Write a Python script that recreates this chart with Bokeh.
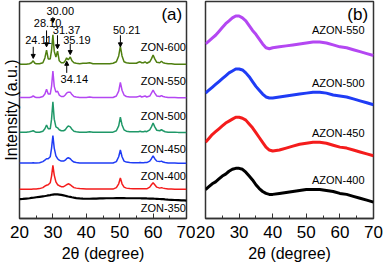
from bokeh.plotting import figure
from bokeh.layouts import row
from bokeh.models import Arrow, NormalHead, FixedTicker, Range1d, Title
from bokeh.core.properties import value
from bokeh.embed import file_html
from bokeh.resources import INLINE

FONT = "Liberation Sans"

# ---------------- data: panel (a) ----------------
theta_a = [20, 21, 22, 23, 23.6, 24.1, 24.6, 25, 26, 27, 27.6, 28.1, 28.6, 29.2, 29.6, 30.0,
           30.4, 30.9, 31.4, 31.9, 32.5, 33.2, 33.7, 34.1, 34.6, 35.2, 35.7, 36.3, 37, 38,
           39, 40, 41, 42, 43, 44, 45, 46, 47, 48, 49, 49.7, 50.2, 50.7, 51.3, 52, 53, 54,
           55, 55.6, 56.1, 56.6, 57.1, 57.6, 58.1, 59, 59.5, 60.0, 60.5, 61.1, 62, 62.5, 63,
           63.6, 64.5, 65.5, 66.5, 67.5, 68.5, 69.3, 70]

zon600 = [0.5, 0.5, 0.5, 1, 2, 4, 1.5, 1, 1, 2, 7, 15, 6, 6, 15, 31,
          14, 8, 14, 4, 2, 2, 4, 7, 5, 8, 4, 2, 1.5, 1,
          1.5, 1.5, 2, 1, 1, 1, 1, 1, 1, 1.5, 3, 9, 19, 9, 3, 2, 1.5, 1.5,
          1.5, 2.5, 3, 2, 2, 3, 1.5, 3, 6, 10, 6, 2.5, 2, 3.5, 2,
          1.5, 1, 1, 0.5, 0.5, 0.5, 0.5, 0.5]
zon550 = [0.5, 0.5, 0.5, 0.5, 1, 2, 1, 0.5, 0.5, 1.5, 4, 9, 4, 4, 12, 28,
          12, 6, 7, 3, 1.5, 1.5, 3, 5, 6, 6, 3.5, 1.5, 1, 0.5,
          0.5, 0.5, 1, 0.5, 0.5, 0.5, 0.5, 0.5, 0.5, 0.5, 2, 7, 16, 8, 3, 1.5, 1, 1,
          1, 1.5, 2, 1, 1.5, 2, 1, 2, 5, 8, 5, 2, 1.5, 2.5, 1.5,
          1, 0.5, 0.5, 0.5, 0.3, 0.3, 0.3, 0.3]
zon500 = [0.5, 0.5, 0.5, 1, 1.5, 2, 1, 0.5, 0.5, 1.5, 4, 8, 4, 4, 14, 32,
          14, 6, 5, 3, 2, 2, 3, 5, 7, 6, 3.5, 1.5, 1, 0.5,
          0.5, 0.5, 1, 0.5, 0.5, 0.5, 0.5, 0.5, 0.5, 0.5, 2, 7, 16, 8, 3, 1.5, 1, 1,
          1, 1, 1.5, 1, 1, 1.5, 1, 3, 6, 10, 6, 2.5, 2, 3, 2,
          1, 0.5, 0.5, 0.5, 0.3, 0.3, 0.3, 0.3]
zon450 = [0.5, 0.5, 0.5, 0.5, 0.5, 0.8, 0.5, 0.5, 0.8, 2, 3.5, 5, 5, 7, 16, 29,
          16, 8, 5, 3.5, 2.5, 2.5, 3.5, 5, 6, 5, 3, 1.5, 1, 0.5,
          0.5, 0.5, 0.5, 0.5, 0.5, 0.5, 0.5, 0.5, 0.5, 0.5, 2, 7, 14, 7, 2.5, 1.5, 1, 0.8,
          0.8, 0.8, 1, 0.8, 0.8, 1, 1, 2.5, 5, 8, 5, 2.5, 2, 2.5, 1.5,
          1, 0.5, 0.5, 0.5, 0.3, 0.3, 0.3, 0.3]
zon400 = [0.3, 0.3, 0.3, 0.3, 0.3, 0.5, 0.5, 0.5, 1, 2, 3.5, 4.5, 5, 7, 14, 25,
          15, 8, 5, 4, 3, 3, 4, 5, 6, 5, 3.5, 2, 1.5, 1,
          0.8, 0.5, 0.5, 0.5, 0.5, 0.5, 0.5, 0.5, 0.5, 0.5, 2, 6, 12, 6, 2.5, 1.5, 1, 0.8,
          0.8, 0.8, 0.8, 0.8, 0.8, 0.8, 0.8, 2.5, 5, 7, 5, 2.5, 1.5, 2, 1.5,
          1, 0.5, 0.5, 0.3, 0.3, 0.3, 0.3, 0.3]
zon350 = [0, 0.3, 0.7, 1, 1.3, 1.5, 1.8, 2, 2.5, 3, 3.3, 3.6, 4, 4.3, 4.6, 4.8,
          5, 5, 5, 4.8, 4.5, 4, 3.6, 3.2, 2.8, 2.4, 2, 1.6, 1.2, 0.8,
          0.6, 0.5, 0.5, 0.6, 0.7, 0.8, 0.9, 1, 1, 1, 1.1, 1.1, 1.1, 1.1, 1.1, 1, 1, 1,
          1, 1, 1, 0.9, 0.9, 0.9, 0.8, 0.7, 0.7, 0.6, 0.5, 0.4, 0.2, 0.1, 0,
          -0.2, -0.4, -0.6, -0.8, -1, -1.2, -1.3, -1.4]

names_a = ["ZON-600", "ZON-550", "ZON-500", "ZON-450", "ZON-400", "ZON-350"]
series_a = [zon600, zon550, zon500, zon450, zon400, zon350]
offsets_a = [159.5, 125, 89, 57, 30, 20]
colors_a = ["#4f7f10", "#b447f2", "#1f9868", "#1f3cf5", "#f41c1c", "#000000"]

peaks = [24.11, 28.10, 30.00, 31.37, 34.14, 35.19, 50.21]

# ---------------- data: panel (b) ----------------
theta_b = [20, 21, 22, 23, 24, 25, 26, 27, 28, 29, 30, 31, 32, 33, 34, 35, 36, 37, 38, 39, 40,
           42, 44, 46, 48, 50, 52, 54, 56, 58, 60, 62, 64, 66, 68, 70]
azon550 = [181, 184, 187, 190, 194, 198, 202, 205, 208, 210, 210, 208, 205, 200, 195, 191, 186,
           181, 177, 176, 177, 178, 179, 180, 181, 182, 183, 183, 182, 180, 178, 177, 175, 173, 171, 169]
azon500 = [130, 133, 136, 139, 142, 145, 148, 151, 153, 155, 155, 154, 151, 147, 142, 137, 133,
           129, 126, 125, 125, 126, 127, 128, 129, 130, 131, 131, 130, 128, 127, 126, 124, 122, 120, 118]
azon450 = [79, 83, 87, 90, 93, 96, 99, 101, 103, 105, 105, 104, 102, 98, 94, 89, 84,
           79, 74, 71, 70, 71, 73, 75, 77, 78, 79, 79, 78, 76, 74, 73, 71, 69, 67, 65]
azon400 = [30, 33, 36, 38, 41, 44, 46, 49, 51, 52, 52, 51, 48, 44, 40, 35, 31,
           28, 26, 25, 25, 26, 27, 28, 29, 30, 30, 30, 29, 28, 26, 25, 23, 21, 19, 17]
names_b = ["AZON-550", "AZON-500", "AZON-450", "AZON-400"]
series_b = [azon550, azon500, azon450, azon400]
colors_b = ["#b447f2", "#1f3cf5", "#f41c1c", "#000000"]

x_major = [20, 30, 40, 50, 60, 70]
x_minor = [25, 35, 45, 55, 65]


def make_fig(width, left, right):
    p = figure(width=width, height=264, x_range=Range1d(20, 70), y_range=Range1d(0, 225),
               output_backend="svg", toolbar_location=None,
               min_border_left=left, min_border_right=right, min_border_top=1,
               min_border_bottom=0)
    p.grid.visible = False
    p.background_fill_color = "white"
    p.border_fill_color = "white"
    p.outline_line_color = "#333333"
    p.outline_line_width = 1.5
    p.yaxis.visible = False
    xa = p.xaxis[0]
    xa.ticker = FixedTicker(ticks=x_major, minor_ticks=x_minor)
    xa.major_tick_in = 5
    xa.major_tick_out = 0
    xa.minor_tick_in = 3
    xa.minor_tick_out = 0
    xa.major_tick_line_color = "#333333"
    xa.minor_tick_line_color = "#333333"
    xa.axis_line_color = "#333333"
    xa.axis_line_width = 1.5
    xa.major_label_text_font = FONT
    xa.major_label_text_font_size = "17px"
    xa.major_label_text_color = "black"
    xa.major_label_text_line_height = 0.5
    xa.major_label_standoff = 7
    xa.axis_label = "2θ (degree)"
    xa.axis_label_text_font = FONT
    xa.axis_label_text_font_size = "16px"
    xa.axis_label_text_font_style = "normal"
    xa.axis_label_text_color = "black"
    xa.axis_label_text_line_height = 0.5
    xa.axis_label_standoff = 4
    return p


# ---------------- panel (a) ----------------
pa = make_fig(195, 0, 9)
pa.add_layout(Title(text="Intensity (a.u.)", align="center", text_font=FONT,
                    text_font_size="16px", text_font_style="normal", text_color="black",
                    standoff=0, offset=-28), "left")

for s, off, c in zip(series_a, offsets_a, colors_a):
    pa.line(theta_a, [v + off for v in s], line_color=c,
            line_width=2.2 if c == "#000000" else 1.5)

label_y_a = [178, 143, 106, 72, 44, 11]
pa.text(x=[56.3] * len(names_a), y=label_y_a, text=names_a, text_font=value(FONT),
        text_font_size="11px", text_align="left", text_baseline="middle", text_color="black")

# peak annotations
ann_text = [f"{v:.2f}" for v in peaks]
ann_x = [25.7, 28.4, 32.2, 34.1, 36.4, 37.2, 52.1]
ann_y = [185, 203, 215, 195, 145, 185, 195]
pa.text(x=ann_x, y=ann_y, text=ann_text, text_font=value(FONT), text_font_size="11px",
        text_align="center", text_baseline="middle", text_color="black")
arrow_y0 = [178, 195, 209, 190, 151, 181, 190]
arrow_y1 = [166, 178, 203, 176, 163, 170, 178]
for px, y0, y1 in zip(peaks, arrow_y0, arrow_y1):
    pa.add_layout(Arrow(end=NormalHead(size=4, fill_color="black", line_color="black"),
                        x_start=px, y_start=y0, x_end=px, y_end=y1,
                        line_color="black", line_width=1))

pa.text(x=[65.6], y=[212], text=["(a)"], text_font=value(FONT), text_font_size="17px",
        text_align="center", text_baseline="middle", text_color="black")

# ---------------- panel (b) ----------------
pb = make_fig(189, 10, 11)
for s, c in zip(series_b, colors_b):
    pb.line(theta_b, s, line_color=c, line_width=3)

label_y_b = [195, 141, 89, 40]
pb.text(x=[51.7] * len(names_b), y=label_y_b, text=names_b, text_font=value(FONT),
        text_font_size="11px", text_align="left", text_baseline="middle", text_color="black")
pb.text(x=[65.3], y=[212], text=["(b)"], text_font=value(FONT), text_font_size="17px",
        text_align="center", text_baseline="middle", text_color="black")

layout = row(pa, pb, spacing=0)
open("out.html", "w").write(file_html(layout, INLINE))
